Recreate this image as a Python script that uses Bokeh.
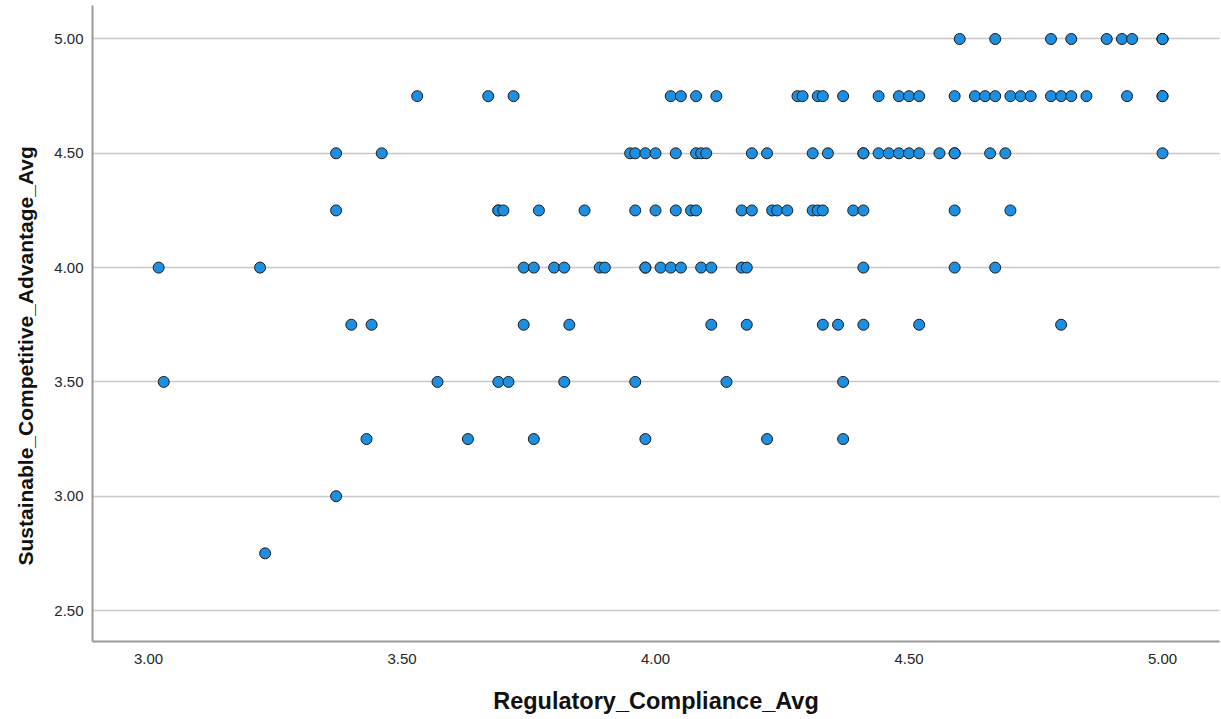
from bokeh.plotting import figure
from bokeh.models import FixedTicker, PrintfTickFormatter, Range1d, Title, ColumnDataSource
from bokeh.embed import file_html
from bokeh.resources import INLINE

# Sustainable_Competitive_Advantage_Avg levels and the Regulatory_Compliance_Avg values at each level
row_500 = [4.60, 4.67, 4.78, 4.82, 4.89, 4.92, 4.94, 5.00, 5.00, 5.00]
row_475 = [3.53, 3.67, 3.72, 4.03, 4.05, 4.08, 4.12, 4.28, 4.29, 4.32, 4.33, 4.37,
           4.44, 4.48, 4.50, 4.52, 4.59, 4.63, 4.65, 4.67, 4.70, 4.72, 4.74, 4.78,
           4.80, 4.82, 4.85, 4.93, 5.00, 5.00]
row_450 = [3.37, 3.46, 3.95, 3.96, 3.98, 4.00, 4.04, 4.08, 4.09, 4.10, 4.19, 4.22,
           4.31, 4.34, 4.41, 4.41, 4.44, 4.46, 4.48, 4.50, 4.52, 4.56, 4.59, 4.59,
           4.66, 4.69, 5.00]
row_425 = [3.37, 3.69, 3.69, 3.70, 3.77, 3.86, 3.96, 4.00, 4.04, 4.07, 4.08, 4.17,
           4.19, 4.23, 4.24, 4.26, 4.31, 4.32, 4.33, 4.39, 4.41, 4.59, 4.70]
row_400 = [3.02, 3.22, 3.74, 3.76, 3.80, 3.82, 3.89, 3.90, 3.98, 3.98, 4.01, 4.03,
           4.05, 4.09, 4.11, 4.17, 4.18, 4.41, 4.59, 4.67]
row_375 = [3.40, 3.44, 3.74, 3.83, 4.11, 4.18, 4.33, 4.36, 4.41, 4.52, 4.80]
row_350 = [3.03, 3.57, 3.69, 3.71, 3.82, 3.96, 4.14, 4.37]
row_325 = [3.43, 3.63, 3.76, 3.98, 4.22, 4.37]
row_300 = [3.37]
row_275 = [3.23]

levels = [5.00, 4.75, 4.50, 4.25, 4.00, 3.75, 3.50, 3.25, 3.00, 2.75]
rows = [row_500, row_475, row_450, row_425, row_400, row_375, row_350, row_325, row_300, row_275]

x_ticks = [3.0, 3.5, 4.0, 4.5, 5.0]
y_ticks = [2.5, 3.0, 3.5, 4.0, 4.5, 5.0]

x_title = "Regulatory_Compliance_Avg"
y_title = "Sustainable_Competitive_Advantage_Avg"

xs, ys = [], []
for lvl, r in zip(levels, rows):
    xs.extend(r)
    ys.extend([lvl] * len(r))
src = ColumnDataSource(dict(x=xs, y=ys))

FONT = "Liberation Sans"

p = figure(width=1221, height=719, output_backend="svg", toolbar_location=None,
           x_range=Range1d(2.8895, 5.1124), y_range=Range1d(2.3644, 5.1465),
           min_border_left=92, min_border_right=2, min_border_top=5, min_border_bottom=78)
p.outline_line_color = None
p.background_fill_color = "white"
p.border_fill_color = "white"

p.xgrid.grid_line_color = None
p.ygrid.grid_line_color = "#c8c8c8"
p.ygrid.grid_line_width = 1.3

for ax in (p.xaxis[0], p.yaxis[0]):
    ax.axis_line_color = "#9a9a9a"
    ax.axis_line_width = 2
    ax.major_tick_line_color = None
    ax.minor_tick_line_color = None
    ax.major_tick_out = 0
    ax.major_tick_in = 0
    ax.minor_tick_out = 0
    ax.major_label_text_font = FONT
    ax.major_label_text_font_size = "15px"
    ax.major_label_text_color = "#262626"
    ax.formatter = PrintfTickFormatter(format="%.2f")

p.xaxis.ticker = FixedTicker(ticks=x_ticks)
p.yaxis.ticker = FixedTicker(ticks=y_ticks)
p.ygrid.ticker = FixedTicker(ticks=y_ticks)
p.xaxis.major_label_standoff = 12
p.yaxis.major_label_standoff = 9

p.xaxis.axis_label = x_title
p.xaxis.axis_label_text_font = FONT
p.xaxis.axis_label_text_font_size = "23.5px"
p.xaxis.axis_label_text_font_style = "bold"
p.xaxis.axis_label_text_color = "#111111"
p.xaxis.axis_label_standoff = 21

ytitle = Title(text=y_title, align="left", offset=76, text_font=FONT,
               text_font_size="21px", text_font_style="bold", text_color="#111111",
               standoff=26, vertical_align="top")
p.add_layout(ytitle, "left")

p.scatter("x", "y", source=src, size=11, marker="circle",
          fill_color="#1e8fe0", line_color="#1c1c1c", line_width=1)

open("out.html", "w").write(file_html(p, INLINE))
